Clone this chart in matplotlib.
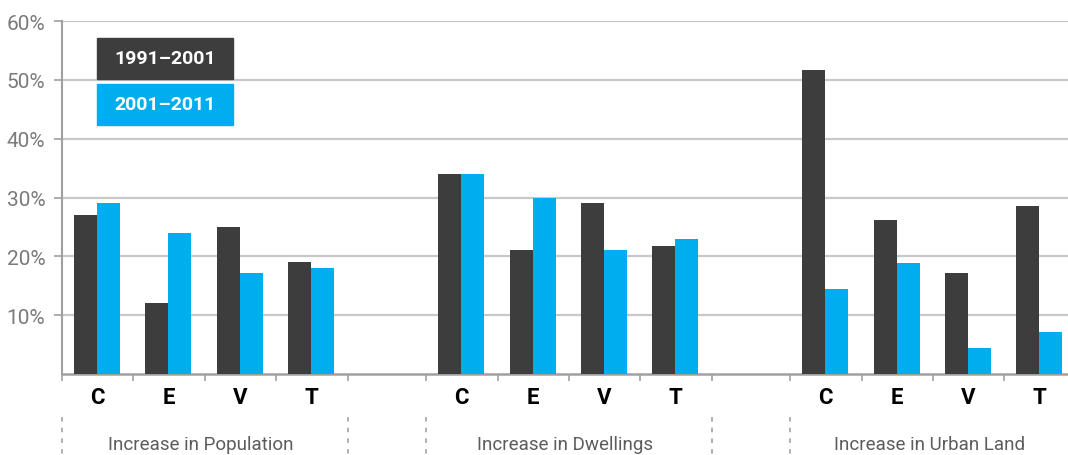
import matplotlib
matplotlib.use("Agg")
import matplotlib.pyplot as plt
from matplotlib import font_manager
from matplotlib.patches import Rectangle
from matplotlib.lines import Line2D
import matplotlib.ticker as mticker

# ---- data ----
groups = ["Increase in Population", "Increase in Dwellings", "Increase in Urban Land"]
categories = ["C", "E", "V", "T"]
series_names = ["1991\u20132001", "2001\u20132011"]
pop_1991_2001 = [27.0, 12.1, 25.0, 19.0]
pop_2001_2011 = [29.0, 24.0, 17.1, 18.0]
dwell_1991_2001 = [34.0, 21.0, 29.1, 21.8]
dwell_2001_2011 = [34.0, 29.9, 21.0, 23.0]
land_1991_2001 = [51.6, 26.1, 17.1, 28.6]
land_2001_2011 = [14.5, 18.9, 4.4, 7.2]
y_ticks = [10, 20, 30, 40, 50, 60]

series_a = [pop_1991_2001, dwell_1991_2001, land_1991_2001]
series_b = [pop_2001_2011, dwell_2001_2011, land_2001_2011]

# ---- fonts ----
avail = {f.name for f in font_manager.fontManager.ttflist}
narrow = "Liberation Sans Narrow" if "Liberation Sans Narrow" in avail else "Roboto"
plt.rcParams["font.family"] = [narrow, "DejaVu Sans"]

DARK = "#3d3d3d"
BLUE = "#00adee"
GRID = "#c8c8c8"
AXIS = "#a0a0a0"
TXT = "#7a7a7a"

W, H = 1068, 456
fig = plt.figure(figsize=(W / 100, H / 100), dpi=100)
ax = fig.add_axes([62 / W, 81 / H, (W - 62) / W, 353 / H])

slot = 1.0
gap = 1.1
bw = 0.322
group_starts = [g * (4 * slot + gap) for g in range(3)]

for gi, start in enumerate(group_starts):
    centers = [start + i * slot + 0.49 for i in range(4)]
    ax.bar([c - bw / 2 for c in centers], series_a[gi], width=bw, color=DARK, zorder=3)
    ax.bar([c + bw / 2 for c in centers], series_b[gi], width=bw, color=BLUE, zorder=3)
    for c, lab in zip(centers, categories):
        ax.text(c, -0.066, lab, transform=ax.get_xaxis_transform(), ha="center", va="center",
                fontsize=16, fontweight="bold", color="black")
    ax.text(start + 2 * slot - 0.05, -0.198, groups[gi], transform=ax.get_xaxis_transform(),
            ha="center", va="center", fontsize=13.5, color="#5c5c5c")

xmax = (W - 62) / 71.4
ax.set_xlim(0, xmax)
ax.set_ylim(0, 60)

# x ticks at slot boundaries
bounds = []
for start in group_starts:
    bounds += [start + i * slot for i in range(5)]
ax.set_xticks([b for b in bounds if b <= xmax])
ax.set_xticklabels([])
ax.tick_params(axis="x", length=5, width=1.2, color=AXIS, direction="out")

# dashed separators
for b in [0, 4, 5.1, 9.1, 10.2]:
    ax.add_line(Line2D([b, b], [-0.122, -0.24], transform=ax.get_xaxis_transform(),
                       clip_on=False, color="#9a9a9a", lw=1.1, dashes=(3, 4)))

ax.set_yticks(y_ticks)
ax.yaxis.set_major_formatter(mticker.FuncFormatter(lambda v, p: f"{v:.0f}%"))
ax.tick_params(axis="y", length=6, width=1.2, color=AXIS, pad=6, labelsize=15, labelcolor=TXT)
ax.grid(axis="y", color=GRID, lw=1.6, zorder=0)
for s in ["top", "right"]:
    ax.spines[s].set_visible(False)
ax.spines["left"].set_color(AXIS)
ax.spines["left"].set_linewidth(1.5)
ax.spines["bottom"].set_color(AXIS)
ax.spines["bottom"].set_linewidth(1.8)
ax.spines["left"].set_zorder(4)

# legend boxes
for (y0, y1), col, name in [((39, 80), DARK, series_names[0]), ((85, 126), BLUE, series_names[1])]:
    fig.patches.append(Rectangle((97 / W, (H - y1) / H), 136 / W, (y1 - y0) / H,
                                 transform=fig.transFigure, color=col, zorder=5))
    fig.text((97 + 68) / W, (H - (y0 + y1) / 2) / H, name, ha="center", va="center",
             color="white", fontsize=14, fontweight="bold", zorder=6)

fig.savefig("out.png", dpi=100)
